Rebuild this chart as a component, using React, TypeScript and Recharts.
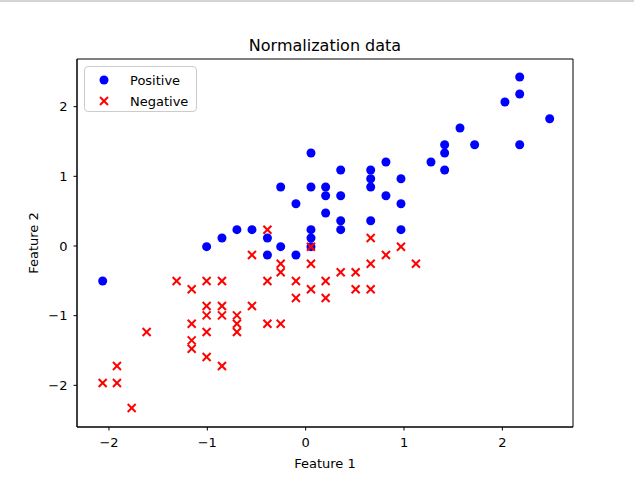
import React from 'react';
import { ScatterChart, Scatter, XAxis, YAxis, ReferenceArea } from 'recharts';

const positiveX = [0.054, -0.254, 0.054, 0.203, 0.203, -0.099, 0.203, -0.699, -0.546, -0.851, -0.389, 0.054, 0.054, 2.176, 2.176, 2.026, 2.481, 1.569, 1.413, 1.413, 1.718, 2.176, 1.274, 1.413, 0.356, 0.661, 0.661, 0.661, 0.816, 0.969, 0.356, 0.816, 0.969, 0.356, 0.356, 0.661, 0.969, -2.064, -1.007, -0.389, -0.254, -0.099, 0.054];
const positiveY = [1.335, 0.847, 0.847, 0.847, 0.722, 0.607, 0.474, 0.234, 0.234, 0.115, 0.115, 0.234, 0.115, 2.426, 2.182, 2.067, 1.827, 1.694, 1.454, 1.335, 1.454, 1.454, 1.206, 1.091, 1.091, 1.091, 0.966, 0.847, 1.206, 0.966, 0.722, 0.722, 0.607, 0.363, 0.234, 0.363, 0.234, -0.502, -0.010, -0.129, -0.010, -0.129, -0.010];

const negativeX = [-0.389, -0.546, -0.254, -0.254, 0.054, -1.312, -1.159, -1.007, -0.851, -0.389, -0.099, 0.203, 0.054, -0.099, 0.203, -1.007, -1.007, -0.851, -0.851, -0.699, -0.699, -0.699, -0.546, -1.159, -1.007, -1.159, -1.159, -0.389, -0.254, -1.617, -1.007, -0.851, -1.919, -2.064, -1.919, -1.769, 0.054, 0.661, 0.969, 0.816, 0.661, 1.121, 0.356, 0.508, 0.508, 0.661];
const negativeY = [0.234, -0.129, -0.254, -0.376, -0.254, -0.502, -0.620, -0.502, -0.502, -0.502, -0.502, -0.502, -0.620, -0.746, -0.746, -0.861, -0.996, -0.861, -0.996, -0.996, -1.115, -1.234, -0.861, -1.115, -1.234, -1.355, -1.474, -1.115, -1.115, -1.234, -1.593, -1.722, -1.722, -1.966, -1.966, -2.325, -0.010, 0.115, -0.010, -0.129, -0.254, -0.254, -0.376, -0.376, -0.620, -0.620];

const xTicks = [-2, -1, 0, 1, 2];
const yTicks = [-2, -1, 0, 1, 2];
const xDomain = [-2.325, 2.718];
const yDomain = [-2.598, 2.684];

const positiveData = positiveX.map((x, i) => ({ x, y: positiveY[i] }));
const negativeData = negativeX.map((x, i) => ({ x, y: negativeY[i] }));

const FONT = '"DejaVu Sans", sans-serif';
const fmt = (v: number) => (v < 0 ? '\u2212' + Math.abs(v) : String(v));

const Dot = (p: any) => <circle cx={p.cx} cy={p.cy} r={4.5} fill="#0000ff" />;
const Cross = (p: any) => (
  <g stroke="#ff0000" strokeWidth={2}>
    <line x1={p.cx - 4} y1={p.cy - 4} x2={p.cx + 4} y2={p.cy + 4} />
    <line x1={p.cx - 4} y1={p.cy + 4} x2={p.cx + 4} y2={p.cy - 4} />
  </g>
);

const YLabel = (props: any) => {
  const vb = props.viewBox || { x: 0, y: 0, width: 0, height: 0 };
  const cx = vb.x + 33;
  const cy = vb.y + vb.height / 2;
  return (
    <text x={cx} y={cy} transform={`rotate(-90 ${cx} ${cy})`} textAnchor="middle" dominantBaseline="central" fontSize={13} fontFamily={FONT} fill="#000">
      Feature 2
    </text>
  );
};

export default function App() {
  return (
    <div style={{ position: 'absolute', left: 0, top: 0, width: 634, height: 479, background: '#fff' }}>
      <div style={{ position: 'absolute', left: 0, top: 0, width: 634, height: 2, background: '#d4d4d4' }} />
      <ScatterChart width={634} height={479} margin={{ top: 59, right: 61, bottom: 0, left: 0 }}>
        <XAxis
          type="number"
          dataKey="x"
          xAxisId="b"
          domain={xDomain}
          ticks={xTicks}
          allowDataOverflow
          height={52}
          tickSize={3.5}
          tickMargin={7}
          tickFormatter={fmt}
          stroke="#000"
          tick={{ fill: '#000', fontSize: 13, fontFamily: FONT }}
          label={{ value: 'Feature 1', position: 'insideBottom', offset: 11, fill: '#000', fontSize: 13, fontFamily: FONT }}
        />
        <YAxis
          type="number"
          dataKey="y"
          yAxisId="l"
          domain={yDomain}
          ticks={yTicks}
          allowDataOverflow
          width={77}
          tickSize={3.5}
          tickMargin={6}
          tickFormatter={fmt}
          stroke="#000"
          tick={{ fill: '#000', fontSize: 13, fontFamily: FONT }}
          label={<YLabel />}
        />
        <ReferenceArea
          xAxisId="b"
          yAxisId="l"
          x1={xDomain[0]}
          x2={xDomain[1]}
          y1={yDomain[0]}
          y2={yDomain[1]}
          fill="none"
          fillOpacity={0}
          stroke="#000"
          strokeWidth={1}
          ifOverflow="visible"
          label={{ value: 'Normalization data', position: 'top', offset: 8, fill: '#000', fontSize: 16, fontFamily: FONT }}
        />
        <Scatter name="Positive" data={positiveData} xAxisId="b" yAxisId="l" shape={Dot} isAnimationActive={false} />
        <Scatter name="Negative" data={negativeData} xAxisId="b" yAxisId="l" shape={Cross} isAnimationActive={false} />
      </ScatterChart>
      <div
        style={{
          position: 'absolute',
          left: 84,
          top: 66,
          width: 113,
          height: 46,
          boxSizing: 'border-box',
          border: '1px solid #cccccc',
          borderRadius: 4,
          background: 'rgba(255,255,255,0.8)',
          fontFamily: FONT,
          fontSize: 13,
          color: '#000',
        }}
      >
        <div style={{ position: 'absolute', left: 0, top: 4, height: 18, width: '100%', display: 'flex', alignItems: 'center' }}>
          <svg width={40} height={18} style={{ flex: 'none' }}>
            <circle cx={19} cy={9} r={4.5} fill="#0000ff" />
          </svg>
          <span style={{ marginLeft: 5 }}>Positive</span>
        </div>
        <div style={{ position: 'absolute', left: 0, top: 25, height: 18, width: '100%', display: 'flex', alignItems: 'center' }}>
          <svg width={40} height={18} style={{ flex: 'none' }}>
            <g stroke="#ff0000" strokeWidth={2}>
              <line x1={15} y1={5} x2={23} y2={13} />
              <line x1={15} y1={13} x2={23} y2={5} />
            </g>
          </svg>
          <span style={{ marginLeft: 5 }}>Negative</span>
        </div>
      </div>
    </div>
  );
}
